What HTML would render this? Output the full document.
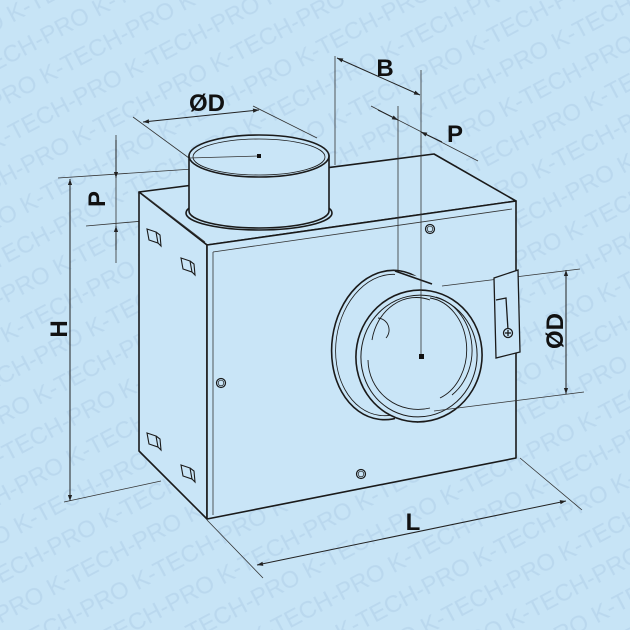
<!DOCTYPE html>
<html><head><meta charset="utf-8"><style>
html,body{margin:0;padding:0;background:#c7e4f6;width:630px;height:630px;overflow:hidden;}
svg{display:block}
</style></head><body>
<svg width="630" height="630" viewBox="0 0 630 630" xmlns="http://www.w3.org/2000/svg">
<defs>
<marker id="a" viewBox="0 0 10 10" refX="10" refY="5" markerWidth="9" markerHeight="6" orient="auto-start-reverse"><path d="M0,1.5 L10,5 L0,8.5z" fill="#222"/></marker>
<pattern id="wm" patternUnits="userSpaceOnUse" width="156" height="70" patternTransform="rotate(-28)">
<g font-family="Liberation Sans, sans-serif" font-size="24" fill="#bad8ee">
<text x="0" y="26">K-TECH-PRO</text>
<text x="-156" y="26">K-TECH-PRO</text>
<text x="78" y="61">K-TECH-PRO</text>
<text x="-78" y="61">K-TECH-PRO</text>
</g>
</pattern>
</defs>
<rect width="630" height="630" fill="#c7e4f6"/>
<rect width="630" height="630" fill="url(#wm)"/>
<g stroke="#333" stroke-width="0.8" fill="none">
<line x1="58" y1="178" x2="193" y2="169"/>
<line x1="64" y1="502" x2="161" y2="481"/>
<line x1="86" y1="226" x2="189" y2="217"/>
<line x1="116" y1="135" x2="116" y2="263"/>
<line x1="133" y1="117" x2="189" y2="158"/>
<line x1="253" y1="106" x2="317" y2="138"/>
<line x1="335" y1="56" x2="335" y2="165"/>
<line x1="371" y1="106" x2="478" y2="161"/>
<line x1="207" y1="520" x2="263" y2="578"/>
<line x1="520" y1="458" x2="582" y2="510"/>
</g>
<g stroke="#222" stroke-width="1" fill="none">
<line x1="70" y1="179" x2="70" y2="501" marker-start="url(#a)" marker-end="url(#a)"/>
<line x1="116" y1="140" x2="116" y2="178" marker-end="url(#a)"/>
<line x1="116" y1="250" x2="116" y2="226" marker-end="url(#a)"/>
<line x1="143" y1="122" x2="259" y2="110" marker-start="url(#a)" marker-end="url(#a)"/>
<line x1="337" y1="58" x2="420" y2="95" marker-start="url(#a)" marker-end="url(#a)"/>
<line x1="378" y1="110" x2="398" y2="120" marker-end="url(#a)"/>
<line x1="442" y1="142" x2="421" y2="132" marker-end="url(#a)"/>
<line x1="566" y1="270" x2="566" y2="394" marker-start="url(#a)" marker-end="url(#a)"/>
<line x1="257" y1="565" x2="566" y2="501" marker-start="url(#a)" marker-end="url(#a)"/>
</g>
<g font-family="Liberation Sans, sans-serif" font-weight="bold" font-size="24" fill="#111" text-anchor="middle">
<text x="207" y="111">ØD</text>
<text x="385" y="76">B</text>
<text x="455" y="142">P</text>
<text x="413" y="530">L</text>
<text transform="translate(67,329) rotate(-90)">H</text>
<text transform="translate(105,199) rotate(-90)">P</text>
<text transform="translate(563,331) rotate(-90)">ØD</text>
</g>
<g stroke="#1a1a1a" stroke-width="1.6" fill="#c9e5f7" stroke-linejoin="round">
<path d="M139,192 L434,154 L516,201 L207,245 Z"/>
<path d="M139,192 L207,245 L207,519 L139,451 Z"/>
<path d="M207,245 L516,201 L516,458 L207,519 Z"/>
</g>
<g stroke="#333" stroke-width="0.8" fill="none">
<line x1="213" y1="252" x2="512" y2="209"/>
<line x1="213" y1="252" x2="213" y2="515"/>
<line x1="145" y1="196" x2="205" y2="242"/>
</g>
<g stroke="#1a1a1a" stroke-width="1.6" fill="#c9e5f7">
<ellipse cx="259" cy="213" rx="73" ry="17"/>
<path d="M189,156 L189,211 A70 17 0 0 0 329 211 L329,156 Z"/>
<ellipse cx="259" cy="156" rx="70" ry="21"/>
<ellipse cx="259" cy="157" rx="66" ry="18" fill="none" stroke-width="0.8"/>
</g>
<line x1="189" y1="158" x2="259" y2="156" stroke="#333" stroke-width="0.8"/>
<rect x="257" y="154" width="4" height="4" fill="#111"/>
<g stroke="#1a1a1a" stroke-width="1.6" fill="#c9e5f7">
<ellipse cx="389" cy="345" rx="57" ry="75" transform="rotate(8 389 345)"/>
<ellipse cx="389" cy="345" rx="53" ry="71" fill="none" stroke-width="0.8" transform="rotate(8 389 345)"/>
<path d="M395,271 L445,283 L470,300 L430,410 L395,420 Z" stroke="none"/>
<line x1="395" y1="271" x2="432" y2="284"/>
<line x1="400" y1="419" x2="418" y2="422"/>
<ellipse cx="419" cy="356" rx="63" ry="66" transform="rotate(10 419 356)"/>
<ellipse cx="419" cy="356" rx="58" ry="61" fill="none" stroke-width="1" transform="rotate(10 419 356)"/>
</g>
<g stroke="#1a1a1a" stroke-width="0.9" fill="none">
<path d="M436,297 A48 55 0 0 1 452 395"/>
<path d="M430,298 A42 52 0 0 1 440 398"/>
<path d="M372,340 A45 52 0 0 1 430 300"/>
<path d="M368,360 A50 50 0 0 0 430 408"/>
<path d="M378,318 A12 12 0 0 1 386 338"/>
</g>
<g stroke="#333" stroke-width="0.8" fill="none">
<line x1="421" y1="70" x2="421" y2="356"/>
<line x1="398" y1="106" x2="398" y2="270"/>
<line x1="442" y1="286" x2="580" y2="269"/>
<line x1="434" y1="411" x2="584" y2="392"/>
</g>
<rect x="419" y="354" width="5" height="5" fill="#111"/>
<g stroke="#1a1a1a" stroke-width="1.3" fill="#c9e5f7">
<path d="M494,278 L518,270 L520,352 L496,358 Z"/>
<path d="M496,300 L506,298 L508,330" fill="none"/>
<circle cx="508" cy="333" r="4.5"/>
<line x1="505" y1="333" x2="511" y2="333"/><line x1="508" y1="330" x2="508" y2="336"/>
</g>
<g stroke="#1a1a1a" stroke-width="1.2" fill="#c9e5f7">
<circle cx="430" cy="229" r="4.5"/><circle cx="430" cy="229" r="2.8" fill="none" stroke-width="0.7"/>
<circle cx="221" cy="383" r="4.5"/><circle cx="221" cy="383" r="2.8" fill="none" stroke-width="0.7"/>
<circle cx="361" cy="474" r="4.5"/><circle cx="361" cy="474" r="2.8" fill="none" stroke-width="0.7"/>
</g>
<g stroke="#1a1a1a" stroke-width="1.1" fill="#c9e5f7">
<path d="M147,229 L156,232 L158,243 L149,240 Z"/><path d="M156,232 L160,235 L161,246 L158,243" fill="none"/>
<path d="M181,258 L190,261 L192,272 L183,269 Z"/><path d="M190,261 L194,264 L195,275 L192,272" fill="none"/>
<path d="M147,433 L156,436 L158,447 L149,444 Z"/><path d="M156,436 L160,439 L161,450 L158,447" fill="none"/>
<path d="M181,465 L190,468 L192,479 L183,476 Z"/><path d="M190,468 L194,471 L195,482 L192,479" fill="none"/>
</g>
</svg>
</body></html>
